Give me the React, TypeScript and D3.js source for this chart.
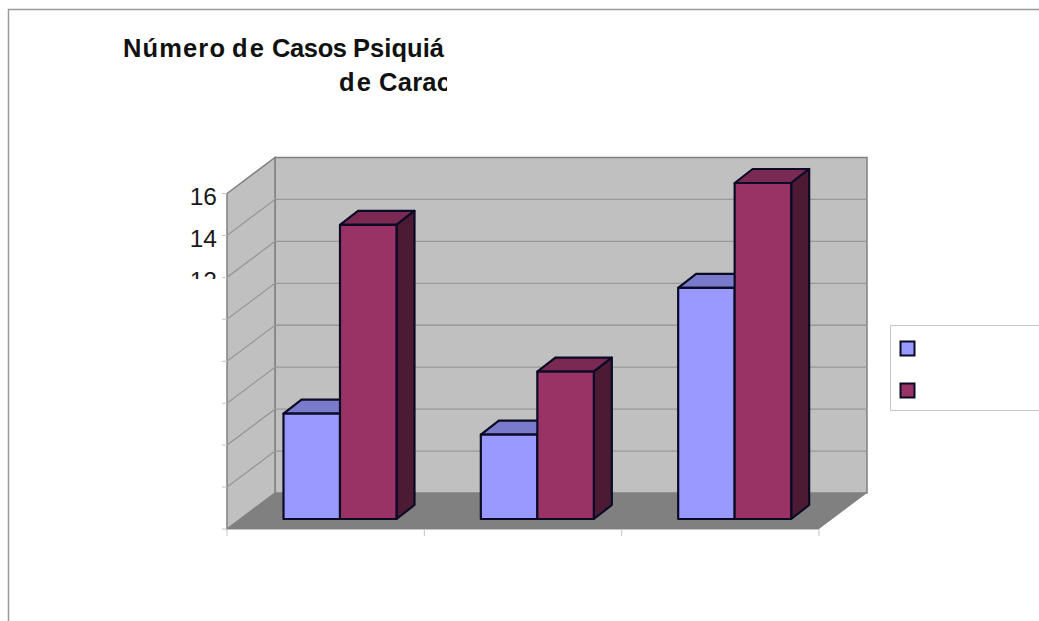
import React from "react";
import * as d3 from "d3";

const groupKeys = ["g1", "g2", "g3"];
const seriesBlue = [5, 4, 11];
const seriesRed = [14, 7, 16];
const yTicks = [0, 2, 4, 6, 8, 10, 12, 14, 16];
const axisLabels = [16, 14, 12];
const titleLineOne = [
  { word: "Número", x: 123, w: 102 },
  { word: "de", x: 232, w: 32 },
  { word: "Casos", x: 272, w: 75 },
  { word: "Psiquiá", x: 353, w: 91 },
];
const titleLineTwo = [
  { word: "de", x: 339, w: 32 },
  { word: "Carac", x: 379, w: 72 },
];

const W = 1039;
const H = 621;
const FONT = "'Liberation Sans', Arial, sans-serif";

// The chart box: front plane of the 3D plot plus the wall depth offset.
const frontLeft = 227;
const frontRight = 819;
const depthX = 48;
const depthY = 36;

const y = d3.scaleLinear().domain([0, 16]).range([529, 193.5]);
const x = d3.scaleBand().domain(groupKeys).range([frontLeft, frontRight]);

// Bars stand a little behind the front plane and have their own shallow depth.
const barInsetX = 13.5;
const barInsetY = 10;
const barDepthX = 18;
const barDepthY = 14;
const barOuterPad = 43;
const barWidth = 56.5;

const poly = (pts: [number, number][]) => pts.map((p) => p.join(",")).join(" ");

function Bar({ left, value, fill, top, side }: { left: number; value: number; fill: string; top: string; side: string }) {
  const l = left;
  const r = left + barWidth;
  const b = y(0) - barInsetY;
  const t = y(value) - barInsetY - 0.5;
  const stroke = "#0b0b26";
  return (
    <g stroke={stroke} strokeWidth={2.2} strokeLinejoin="round">
      <polygon points={poly([[l, t], [l + barDepthX, t - barDepthY], [r + barDepthX, t - barDepthY], [r, t]])} fill={top} />
      <polygon points={poly([[r, t], [r + barDepthX, t - barDepthY], [r + barDepthX, b - barDepthY], [r, b]])} fill={side} />
      <rect x={l} y={t} width={barWidth} height={b - t} fill={fill} />
    </g>
  );
}

export default function App() {
  const gridColor = "#989898";
  return (
    <svg width={W} height={H} viewBox={`0 0 ${W} ${H}`} style={{ position: "absolute", left: 0, top: 0, background: "#fff" }}>
      <defs>
        <clipPath id="titleClip"><rect x={100} y={30} width={347} height={80} /></clipPath>
        <clipPath id="labelClip"><rect x={170} y={170} width={60} height={109} /></clipPath>
      </defs>

      {/* page frame */}
      <path d="M8.5,621 V9.5 H1039" fill="none" stroke="#9a9a9a" strokeWidth={1.5} />

      {/* title */}
      <g clipPath="url(#titleClip)" fontFamily={FONT} fontWeight={700} fontSize={25.5} fill="#111">
        {titleLineOne.map((d) => (
          <text key={d.word} x={d.x} y={57} textLength={d.w} lengthAdjust="spacing">{d.word}</text>
        ))}
        {titleLineTwo.map((d) => (
          <text key={d.word} x={d.x} y={91} textLength={d.w} lengthAdjust="spacing">{d.word}</text>
        ))}
      </g>

      {/* walls and floor */}
      <polygon
        points={poly([[frontLeft + depthX, y(16) - depthY], [frontRight + depthX, y(16) - depthY], [frontRight + depthX, y(0) - depthY], [frontLeft + depthX, y(0) - depthY]])}
        fill="#c0c0c0" stroke="#808080" strokeWidth={1.5}
      />
      <polygon
        points={poly([[frontLeft, y(16)], [frontLeft + depthX, y(16) - depthY], [frontLeft + depthX, y(0) - depthY], [frontLeft, y(0)]])}
        fill="#c0c0c0" stroke="#808080" strokeWidth={1.5}
      />
      <polygon
        points={poly([[frontLeft, y(0)], [frontLeft + depthX, y(0) - depthY], [frontRight + depthX, y(0) - depthY], [frontRight, y(0)]])}
        fill="#808080"
      />

      {/* gridlines on both walls */}
      {yTicks.slice(1, -1).map((t) => (
        <g key={t} stroke={gridColor} strokeWidth={1.3} fill="none">
          <line x1={frontLeft} y1={y(t)} x2={frontLeft + depthX} y2={y(t) - depthY} />
          <line x1={frontLeft + depthX} y1={y(t) - depthY} x2={frontRight + depthX} y2={y(t) - depthY} />
        </g>
      ))}

      {/* axis lines and tick marks */}
      <g stroke="#c4c4c4" strokeWidth={1} fill="none">
        <line x1={frontLeft} y1={y(0) + 0.5} x2={frontRight} y2={y(0) + 0.5} />
        {[...groupKeys.map((k) => x(k) as number), frontRight].map((px) => (
          <line key={px} x1={px} y1={y(0)} x2={px} y2={y(0) + 7} />
        ))}
        {yTicks.map((t) => (
          <line key={t} x1={frontLeft - 5} y1={y(t)} x2={frontLeft} y2={y(t)} />
        ))}
      </g>

      {/* value labels */}
      <g clipPath="url(#labelClip)" fontFamily={FONT} fontSize={24.5} fill="#1a1a1a" textAnchor="end">
        {axisLabels.map((v) => (
          <text key={v} x={217} y={y(v) + 11.5}>{v}</text>
        ))}
      </g>

      {/* clustered bars */}
      {groupKeys.map((k, i) => {
        const left = (x(k) as number) + barInsetX + barOuterPad;
        return (
          <g key={k}>
            <Bar left={left} value={seriesBlue[i]} fill="#9999ff" top="#7a7acc" side="#4c4c80" />
            <Bar left={left + barWidth} value={seriesRed[i]} fill="#993366" top="#7a2952" side="#4d1a33" />
          </g>
        );
      })}

      {/* legend box with its two swatches */}
      <rect x={890.5} y={325.5} width={160} height={85} fill="#fff" stroke="#c8c8c8" strokeWidth={1} />
      <rect x={900.5} y={341.5} width={14} height={14} fill="#9999ff" stroke="#0b0b26" strokeWidth={2} />
      <rect x={900.5} y={383.5} width={14} height={14} fill="#993366" stroke="#0b0b26" strokeWidth={2} />
    </svg>
  );
}
